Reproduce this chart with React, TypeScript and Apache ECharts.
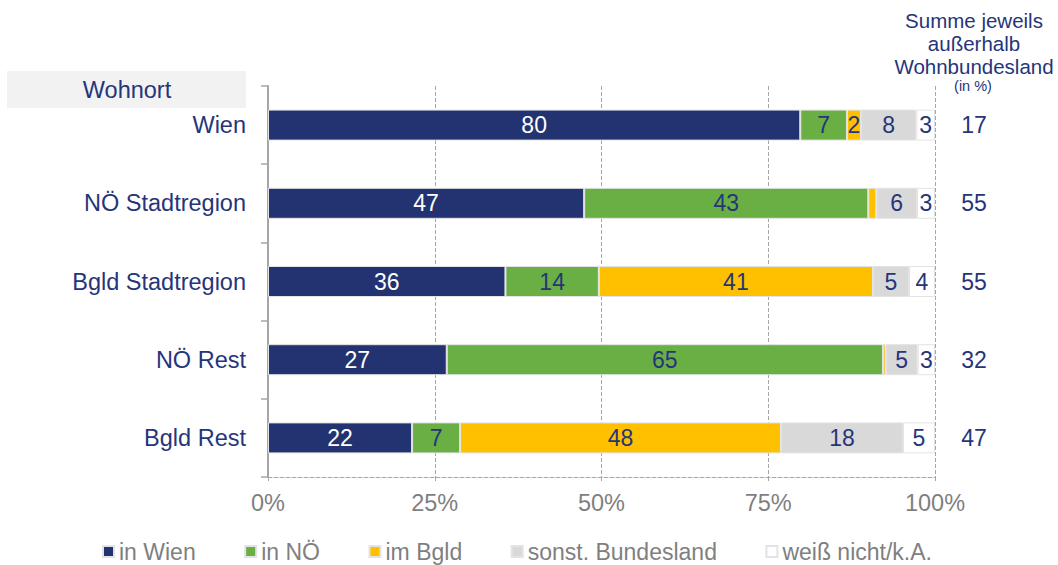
import React, { useEffect, useRef } from "react";
import * as echarts from "echarts";

const categories = ["Wien", "NÖ Stadtregion", "Bgld Stadtregion", "NÖ Rest", "Bgld Rest"];
const inWien = [79.8, 47.4, 35.6, 26.8, 21.6];
const inNOe = [7.0, 42.6, 14.0, 65.4, 7.2];
const imBgld = [2.1, 1.2, 41.1, 0.4, 48.1];
const sonstBL = [8.3, 6.1, 5.4, 4.8, 18.3];
const weissNicht = [2.8, 2.7, 3.9, 2.6, 4.8];
const outsideTotals = [17, 55, 55, 32, 47];
const xTicks = [0, 25, 50, 75, 100];

const seriesNames = ["in Wien", "in NÖ", "im Bgld", "sonst. Bundesland", "weiß nicht/k.A."];
const seriesData = [inWien, inNOe, imBgld, sonstBL, weissNicht];
const seriesColors = ["#233371", "#6AAF44", "#FFC000", "#D9D9D9", "#FFFFFF"];
const labelColors = ["#FFFFFF", "#26357A", "#26357A", "#26357A", "#26357A"];

const FONT = '"Liberation Sans", Arial, sans-serif';
const DARK = "#26357A";
const GREY = "#7F7F7F";

export default function App() {
  const ref = useRef<HTMLDivElement>(null);
  useEffect(() => {
    if (!ref.current) return;
    const chart = echarts.init(ref.current, null, { renderer: "svg" });
    chart.setOption({
      animation: false,
      textStyle: { fontFamily: FONT },
      grid: { left: 268, right: 123, top: 86, bottom: 88, containLabel: false },
      legend: {
        left: 97,
        top: 535,
        icon: "rect",
        itemWidth: 11,
        itemHeight: 11,
        itemGap: 48.5,
        textStyle: { color: GREY, fontSize: 23, fontFamily: FONT },
        data: seriesNames,
      },
      xAxis: {
        type: "value",
        min: xTicks[0],
        max: xTicks[xTicks.length - 1],
        interval: 25,
        axisLine: { show: true, lineStyle: { color: "#A6A6A6", type: "dashed", width: 1 } },
        axisTick: { show: true, length: 6, lineStyle: { color: "#A6A6A6", type: "dashed" } },
        splitLine: { show: true, lineStyle: { color: "#A6A6A6", type: "dashed", width: 1 } },
        axisLabel: { formatter: "{value}%", color: GREY, fontSize: 23.5, margin: 14, fontFamily: FONT },
      },
      yAxis: [
        {
          type: "category",
          data: categories,
          inverse: true,
          axisLine: { show: true, lineStyle: { color: "#A6A6A6", width: 2 } },
          axisTick: { show: true, length: 7, lineStyle: { color: "#A6A6A6", width: 1.5 } },
          axisLabel: { color: DARK, fontSize: 23.5, margin: 22, fontFamily: FONT },
        },
        {
          type: "category",
          data: outsideTotals.map(String),
          inverse: true,
          position: "right",
          axisLine: { show: false },
          axisTick: { show: false },
          axisLabel: { color: DARK, fontSize: 23, margin: 39, align: "center", fontFamily: FONT },
        },
      ],
      graphic: [
        {
          type: "rect",
          shape: { x: 7, y: 71, width: 239, height: 37 },
          style: { fill: "#F2F2F2" },
          z: 0,
        },
        {
          type: "text",
          x: 127,
          y: 90,
          style: {
            text: "Wohnort",
            fill: DARK,
            font: `23.5px ${FONT}`,
            align: "center",
            verticalAlign: "middle",
          },
        },
        {
          type: "text",
          x: 974,
          y: 9,
          style: {
            text: "Summe jeweils\naußerhalb\nWohnbundesland",
            fill: DARK,
            font: `20.5px ${FONT}`,
            align: "center",
            verticalAlign: "top",
            lineHeight: 23,
          },
        },
        {
          type: "text",
          x: 973,
          y: 86,
          style: {
            text: "(in %)",
            fill: DARK,
            font: `14.5px ${FONT}`,
            align: "center",
            verticalAlign: "middle",
          },
        },
      ],
      series: seriesNames.map((name, i) => ({
        name,
        type: "bar",
        stack: "total",
        barWidth: 31,
        data: seriesData[i],
        itemStyle: { color: seriesColors[i], borderColor: "#E3E3E3", borderWidth: 1 },
        label: {
          show: true,
          position: "inside",
          color: labelColors[i],
          fontSize: 23,
          fontFamily: FONT,
          formatter: (p: any) => (p.value >= 1.5 ? String(Math.round(p.value)) : ""),
        },
      })),
    });
    return () => chart.dispose();
  }, []);
  return (
    <div
      ref={ref}
      style={{ position: "absolute", left: 0, top: 0, width: 1058, height: 565, background: "#fff" }}
    />
  );
}
